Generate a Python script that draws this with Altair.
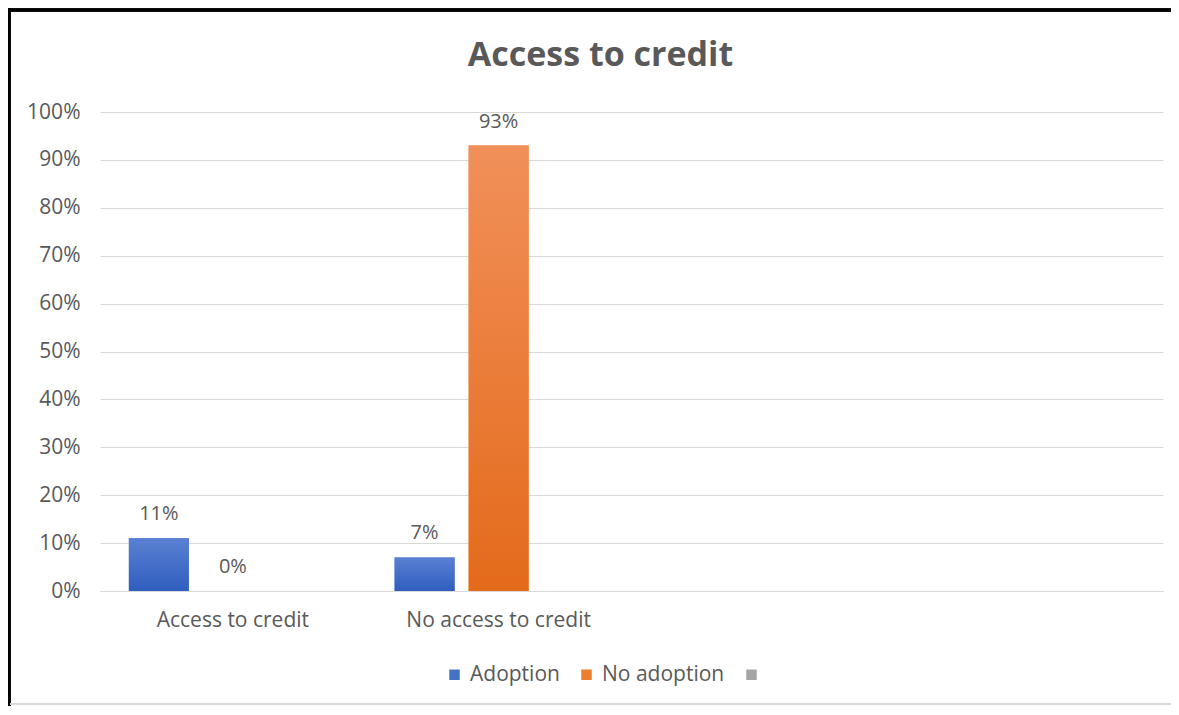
import altair as alt
import pandas as pd

# ---- data ----
categories = ["Access to credit", "No access to credit"]
slots = ["Access to credit", "No access to credit", "slot3", "slot4"]
series = ["Adoption", "No adoption", "Series3"]
adoption = [0.11, 0.07]
no_adoption = [0.00, 0.93]
series_colors = ["#4472c4", "#ed7d31", "#a5a5a5"]
y_ticks = [0, 0.1, 0.2, 0.3, 0.4, 0.5, 0.6, 0.7, 0.8, 0.9, 1.0]

rows = []
for c, a, n in zip(categories, adoption, no_adoption):
    rows.append({"category": c, "series": "Adoption", "value": a})
    rows.append({"category": c, "series": "No adoption", "value": n})
df = pd.DataFrame(rows)

FONT = "Open Sans"
GREY_TEXT = "#595959"

x_enc = alt.X(
    "category:N",
    scale=alt.Scale(domain=slots, paddingInner=0, paddingOuter=0),
    axis=alt.Axis(
        title=None,
        labelAngle=0,
        ticks=False,
        grid=False,
        domain=True,
        domainColor="#d9d9d9",
        labelPadding=18,
        labelFontSize=21,
        labelLimit=0,
        labelColor=GREY_TEXT,
        labelFont=FONT,
        labelExpr="indexof(datum.label, 'slot') == 0 ? '' : datum.label",
    ),
)
xo_enc = alt.XOffset(
    "series:N",
    scale=alt.Scale(domain=series, paddingInner=0.19, paddingOuter=0.39),
)
y_enc = alt.Y(
    "value:Q",
    scale=alt.Scale(domain=[0, 1]),
    axis=alt.Axis(
        title=None,
        values=y_ticks,
        format=".0%",
        domain=False,
        ticks=False,
        gridColor="#d9d9d9",
        gridWidth=1,
        labelPadding=20,
        labelFontSize=21,
        labelColor=GREY_TEXT,
        labelFont=FONT,
    ),
)

base = alt.Chart(df)

bars = base.mark_bar().encode(
    x=x_enc,
    xOffset=xo_enc,
    y=y_enc,
    color=alt.Color(
        "series:N",
        scale=alt.Scale(domain=series, range=series_colors),
        legend=alt.Legend(
            title=None,
            orient="none",
            legendX=344,
            legendY=552,
            direction="horizontal",
            symbolType="square",
            symbolSize=110,
            symbolStrokeWidth=0,
            labelFontSize=21,
            labelFont=FONT,
            labelColor=GREY_TEXT,
            labelOffset=5,
            columnPadding=16,
            labelExpr="datum.label == 'Series3' ? '' : datum.label",
        ),
    ),
)

blue_grad = alt.Gradient(
    gradient="linear",
    stops=[alt.GradientStop(color="#5a80d2", offset=0), alt.GradientStop(color="#2f5ebf", offset=1)],
    x1=0, x2=0, y1=0, y2=1,
)
orange_grad = alt.Gradient(
    gradient="linear",
    stops=[alt.GradientStop(color="#f1905a", offset=0), alt.GradientStop(color="#e46a1a", offset=1)],
    x1=0, x2=0, y1=0, y2=1,
)

blue_layer = base.transform_filter(alt.datum.series == "Adoption").mark_bar(color=blue_grad).encode(
    x=x_enc, xOffset=xo_enc, y=y_enc
)
orange_layer = base.transform_filter(alt.datum.series == "No adoption").mark_bar(color=orange_grad).encode(
    x=x_enc, xOffset=xo_enc, y=y_enc
)

labels = base.mark_text(
    baseline="bottom", dy=-14, fontSize=20, font=FONT, color=GREY_TEXT
).encode(
    x=x_enc,
    xOffset=xo_enc,
    y=y_enc,
    text=alt.Text("value:Q", format=".0%"),
)

frame_left = base.mark_rule(color="black", strokeWidth=3).encode(
    x=alt.value(-91), y=alt.value(-104), y2=alt.value(596)
)
frame_top = base.mark_rule(color="black", strokeWidth=3).encode(
    x=alt.value(-92), x2=alt.value(1071), y=alt.value(-102)
)
frame_bottom = base.mark_rule(color="#d9d9d9", strokeWidth=2).encode(
    x=alt.value(-90), x2=alt.value(1071), y=alt.value(592)
)

chart = (
    alt.layer(bars, blue_layer, orange_layer, labels, frame_left, frame_top, frame_bottom)
    .properties(
        width=1063,
        height=479,
        background="white",
        autosize=alt.AutoSizeParams(type="none"),
        padding={"left": 92, "top": 104, "right": 8, "bottom": 115},
        title=alt.TitleParams(
            "Access to credit",
            fontSize=34,
            font=FONT,
            fontWeight="bold",
            color=GREY_TEXT,
            anchor="middle",
            dx=-31,
            offset=-66,
        ),
    )
    .configure_view(strokeWidth=0, stroke="transparent")
)

chart.save("out.html", embed_options={"renderer": "svg", "actions": False})
